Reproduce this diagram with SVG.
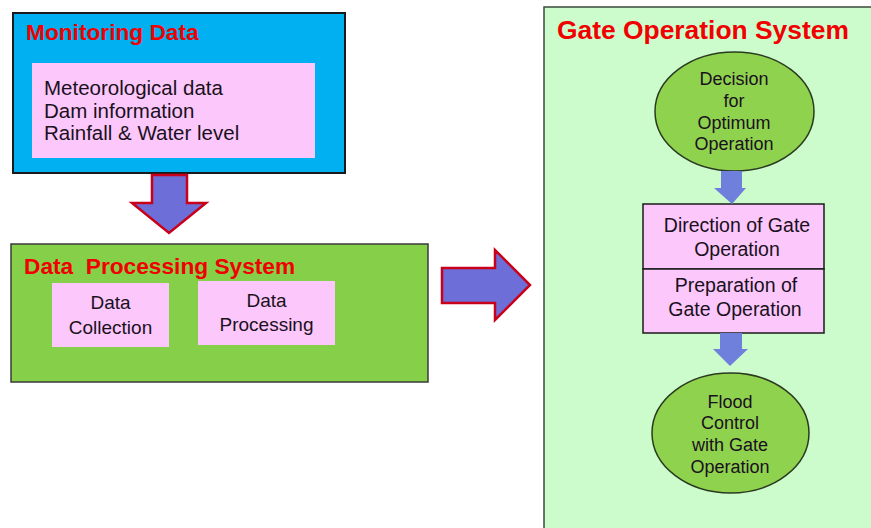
<svg xmlns="http://www.w3.org/2000/svg" width="871" height="528" viewBox="0 0 871 528">
<style>
.title{font-family:"Liberation Sans",Arial,sans-serif;font-weight:bold;fill:#f00000;white-space:pre}
.t{font-family:"Liberation Sans",Arial,sans-serif;fill:#1a1020}
.m{font-size:20.5px}
.b{font-size:19px}
.g{font-size:19.5px}
.e{font-size:18px}
.c{text-anchor:middle}
.pink{fill:#fcc8fc}
.bigarrow{fill:#6e6ed8;stroke:#c8001a;stroke-width:2.5;stroke-linejoin:miter}
.smallarrow{fill:#6f7fdc}
.ell{fill:#8fd24e;stroke:#2a3a20;stroke-width:1.5}
</style>
<rect x="0" y="0" width="871" height="528" fill="#ffffff"/>
<g id="monitoring">
<rect x="13" y="13" width="332" height="160" fill="#00b0f0" stroke="#1a1a1a" stroke-width="2"/>
<text class="title" x="26" y="40" font-size="22.7">Monitoring Data</text>
<rect class="pink" x="32" y="63" width="283" height="95"/>
<text class="t m" x="44" y="95">Meteorological data</text>
<text class="t m" x="44" y="118">Dam information</text>
<text class="t m" x="44" y="140">Rainfall &amp; Water level</text>
</g>
<g id="processing">
<rect x="11" y="244" width="417" height="138" fill="#86cf48" stroke="#3a3a3a" stroke-width="1.5"/>
<text class="title" x="24" y="274" font-size="22.7" xml:space="preserve">Data  Processing System</text>
<rect class="pink" x="52" y="283" width="117" height="64"/>
<text class="t b c" x="110.5" y="309">Data</text>
<text class="t b c" x="110.5" y="334">Collection</text>
<rect class="pink" x="198" y="281" width="137" height="64"/>
<text class="t b c" x="266.5" y="307">Data</text>
<text class="t b c" x="266.5" y="331">Processing</text>
</g>
<g id="gate">
<rect x="544" y="7" width="340" height="530" fill="#ccfccc" stroke="#3a4a3a" stroke-width="1.5"/>
<text class="title" x="557" y="39" font-size="26.4">Gate Operation System</text>
</g>
<g id="decision">
<ellipse class="ell" cx="734.5" cy="111.5" rx="79.5" ry="59.5"/>
<text class="t e c" x="734" y="85">Decision</text>
<text class="t e c" x="734" y="107">for</text>
<text class="t e c" x="734" y="129">Optimum</text>
<text class="t e c" x="734" y="150">Operation</text>
</g>
<g id="direction">
<rect class="pink" x="643" y="204" width="181" height="65" stroke="#1a1a1a" stroke-width="1.5"/>
<text class="t g c" x="737" y="232">Direction of Gate</text>
<text class="t g c" x="737" y="256">Operation</text>
</g>
<g id="preparation">
<rect class="pink" x="643" y="269" width="181" height="64" stroke="#1a1a1a" stroke-width="1.5"/>
<text class="t g c" x="736" y="292">Preparation of</text>
<text class="t g c" x="735" y="316">Gate Operation</text>
</g>
<g id="flood">
<ellipse class="ell" cx="730.5" cy="433" rx="78.5" ry="60"/>
<text class="t e c" x="730" y="408">Flood</text>
<text class="t e c" x="730" y="429">Control</text>
<text class="t e c" x="730" y="451">with Gate</text>
<text class="t e c" x="730" y="473">Operation</text>
</g>
<g id="connectors">
<polygon class="bigarrow" points="152,175 187,175 187,203 206,203 169,233 132,203 152,203"/>
<polygon class="bigarrow" points="442,268 495,268 495,250 530,285 495,320 495,303 442,303"/>
<polygon class="smallarrow" points="721,171 742,171 742,188 746,188 732,204 714,188 721,188"/>
<polygon class="smallarrow" points="720,333 742,333 742,349 748,349 730,366 713,349 720,349"/>
</g>
</svg>
